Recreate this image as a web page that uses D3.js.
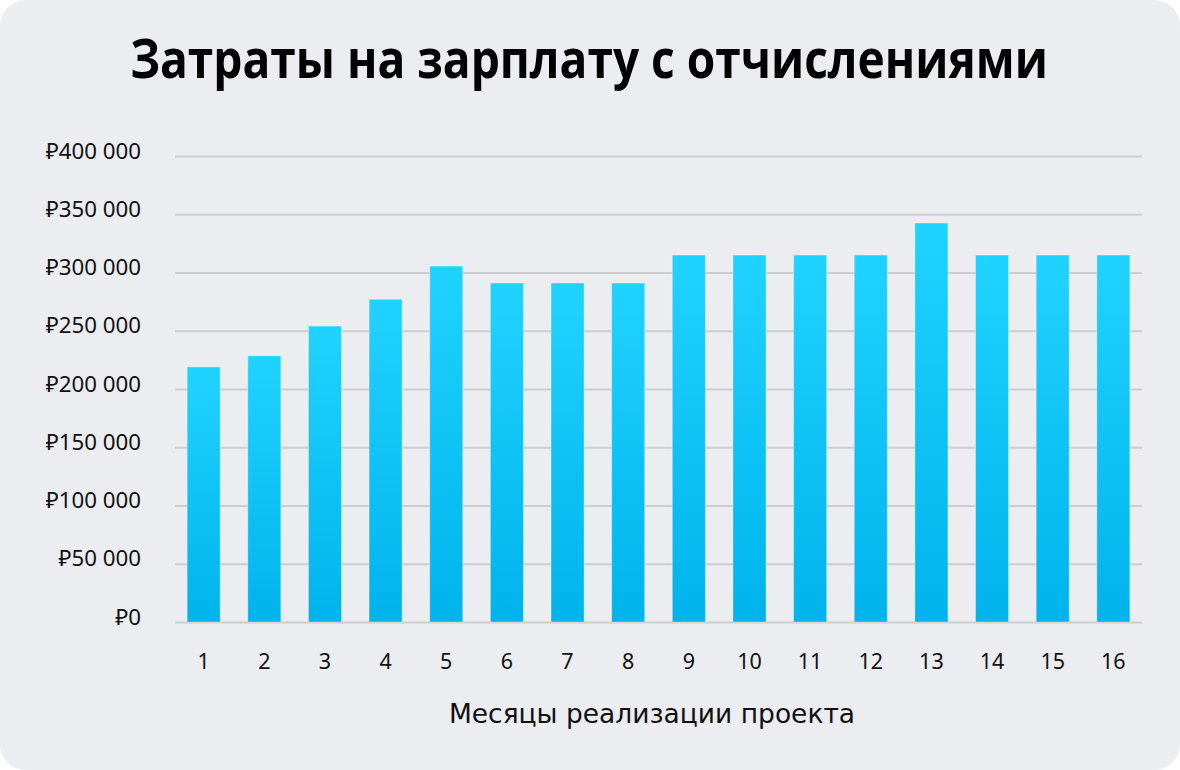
<!DOCTYPE html>
<html>
<head>
<meta charset="utf-8">
<script src="https://cdn.jsdelivr.net/npm/d3@7"></script>
<style>
html,body{margin:0;padding:0;background:#ffffff;}
svg{display:block;}
</style>
</head>
<body>
<svg id="chart" width="1180" height="770"></svg>
<script>
const months = ["1","2","3","4","5","6","7","8","9","10","11","12","13","14","15","16"];
const salaryCosts = [219000,228500,254000,277000,305500,291000,291000,291000,315000,315000,315000,315000,342500,315000,315000,315000];
const yTicks = [0,50000,100000,150000,200000,250000,300000,350000,400000];
const titleText = "Затраты на зарплату с отчислениями";
const xAxisTitle = "Месяцы реализации проекта";

const W = 1180, H = 770;
const margin = {left:175, right:38, top:156, bottom:148};
const svg = d3.select("#chart");

svg.append("rect").attr("x",0).attr("y",0).attr("width",W).attr("height",H)
  .attr("rx",26).attr("ry",26).attr("fill","#ecedf1");

const defs = svg.append("defs");
const grad = defs.append("linearGradient").attr("id","barGrad")
  .attr("x1","0").attr("y1","0").attr("x2","0").attr("y2","1");
grad.append("stop").attr("offset","0%").attr("stop-color","#20d3ff");
grad.append("stop").attr("offset","100%").attr("stop-color","#00b3ec");

const x = d3.scaleBand().domain(months).range([margin.left, W - margin.right]).paddingInner(0.455).paddingOuter(0.2);
const y = d3.scaleLinear().domain([0,400000]).range([H - margin.bottom, margin.top]);

const loc = d3.formatLocale({decimal:",", thousands:"\u00a0", grouping:[3], currency:["₽",""]});
const fmt = loc.format(",.0f");

// gridlines
const grid = svg.append("g").attr("transform",`translate(${margin.left},0)`)
  .call(d3.axisLeft(y).tickValues(yTicks).tickSize(-(W - margin.left - margin.right)).tickFormat(""));
grid.select(".domain").remove();
grid.selectAll(".tick line").attr("stroke","#cdcdd0").attr("stroke-width",2);

// y labels
const yAx = svg.append("g").attr("transform",`translate(141,0)`)
  .call(d3.axisLeft(y).tickValues(yTicks).tickSize(0).tickPadding(0).tickFormat(d => "₽" + fmt(d)));
yAx.select(".domain").remove();
yAx.selectAll("text").attr("font-family","'Noto Sans', 'Open Sans', sans-serif").attr("font-size",22.3)
  .attr("fill","#111").attr("dy","0.1em");

// bars
svg.append("g").selectAll("rect").data(months).join("rect")
  .attr("x", d => x(d))
  .attr("y", (d,i) => y(salaryCosts[i]))
  .attr("width", x.bandwidth())
  .attr("height", (d,i) => y(0) - y(salaryCosts[i]))
  .attr("fill","url(#barGrad)")
  .attr("stroke","rgba(255,255,255,0.35)")
  .attr("stroke-width",1);

// x labels
const xAx = svg.append("g").attr("transform",`translate(0,${H - margin.bottom})`)
  .call(d3.axisBottom(x).tickSize(0).tickPadding(32));
xAx.select(".domain").remove();
xAx.selectAll("text").attr("font-family","'Noto Sans', 'Open Sans', sans-serif").attr("font-size",21.5).attr("fill","#111");

// axis title
svg.append("text").attr("x",652).attr("y",723).attr("text-anchor","middle")
  .attr("font-family","'DejaVu Sans', sans-serif").attr("font-size",26.5).attr("fill","#111")
  .text(xAxisTitle);

// title (condensed horizontally to match reference width)
const tg = svg.append("g");
const t = tg.append("text").attr("x",0).attr("y",0).attr("text-anchor","middle")
  .attr("font-family","'Open Sans', 'Noto Sans', sans-serif").attr("font-weight",700)
  .attr("font-size",54).attr("fill","#000")
  .text(titleText);
const natural = t.node().getComputedTextLength();
const sx = Math.min(1, 918 / natural);
tg.attr("transform",`translate(589,78) scale(${sx},1)`);
</script>
</body>
</html>
